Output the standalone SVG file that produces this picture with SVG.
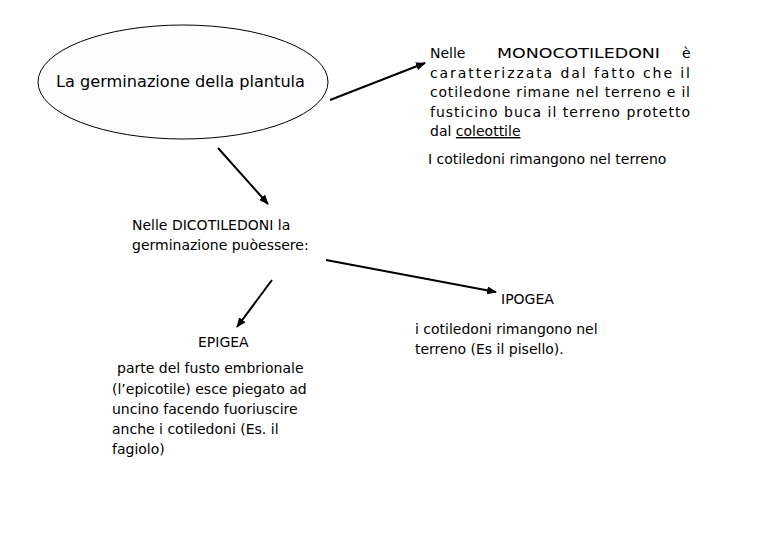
<svg xmlns="http://www.w3.org/2000/svg" width="780" height="540" viewBox="0 0 780 540">
<style>
text{font-family:"Comic Sans MS","DejaVu Sans",sans-serif;font-size:14px;fill:#000}
.big{font-size:16px}
.c line{stroke:#000;stroke-width:2}
</style>
<defs><marker id="a" markerWidth="10" markerHeight="8" refX="9" refY="4" orient="auto" markerUnits="userSpaceOnUse"><path d="M0,0L10,4L0,8z" fill="#000"/></marker></defs>
<rect width="780" height="540" fill="#fff"/>
<g id="root"><ellipse cx="183" cy="82" rx="145" ry="57" fill="#fdfcff" stroke="#000" stroke-width="1"/>
<text class="big" x="56" y="87" textLength="249" lengthAdjust="spacingAndGlyphs">La germinazione della plantula</text></g>
<g id="mono"><text x="430" y="58">Nelle</text><text x="497" y="58" textLength="163" lengthAdjust="spacingAndGlyphs">MONOCOTILEDONI</text><text x="682" y="58">è</text>
<text x="430" y="78" textLength="260" lengthAdjust="spacing">caratterizzata dal fatto che il</text>
<text x="430" y="97" textLength="260" lengthAdjust="spacing">cotiledone rimane nel terreno e il</text>
<text x="430" y="117" textLength="260" lengthAdjust="spacing">fusticino buca il terreno protetto</text>
<text x="430" y="136">dal <tspan text-decoration="underline">coleottile</tspan></text>
<text x="428" y="164">I cotiledoni rimangono nel terreno</text></g>
<g id="dico"><text x="132" y="230">Nelle DICOTILEDONI la</text><text x="132" y="250">germinazione puòessere:</text></g>
<g id="ipogea"><text x="501" y="304">IPOGEA</text><text x="415" y="334">i cotiledoni rimangono nel</text><text x="415" y="354">terreno (Es il pisello).</text></g>
<g id="epigea"><text x="198" y="347">EPIGEA</text>
<text x="117" y="373">parte del fusto embrionale</text><text x="112" y="394">(l’epicotile) esce piegato ad</text><text x="112" y="414">uncino facendo fuoriuscire</text><text x="112" y="434">anche i cotiledoni (Es. il</text><text x="112" y="454">fagiolo)</text></g>
<g class="c"><line x1="330" y1="100" x2="425" y2="63" marker-end="url(#a)"/>
<line x1="218" y1="148" x2="268" y2="204" marker-end="url(#a)"/>
<line x1="326" y1="260" x2="496" y2="292" marker-end="url(#a)"/>
<line x1="272" y1="280" x2="237" y2="327" marker-end="url(#a)"/></g>
</svg>
